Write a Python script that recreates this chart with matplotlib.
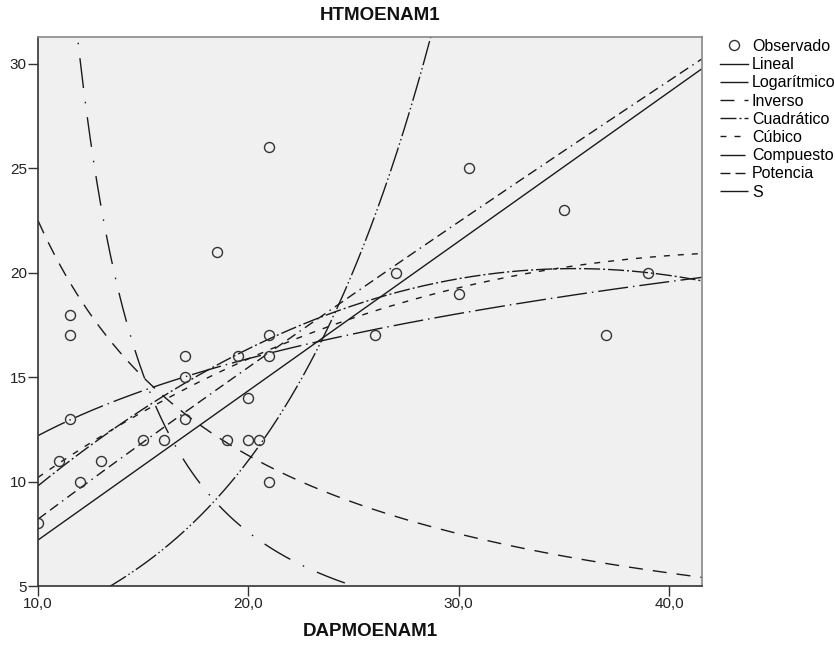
import numpy as np
import matplotlib
matplotlib.use("Agg")
import matplotlib.pyplot as plt
from matplotlib.lines import Line2D

plt.rcParams['font.family'] = ['Liberation Sans', 'DejaVu Sans']
plt.rcParams['lines.scale_dashes'] = False

# Observed data (DAPMOENAM1, HTMOENAM1)
dap = [10, 11, 11.5, 11.5, 11.5, 12, 13, 15, 16, 17, 17, 17, 18.5, 19, 19.5,
       20, 20, 20.5, 21, 21, 21, 21, 26, 27, 30, 30.5, 35, 37, 39]
ht = [8, 11, 13, 17, 18, 10, 11, 12, 12, 13, 15, 16, 21, 12, 16,
      14, 12, 12, 26, 17, 16, 10, 17, 20, 19, 25, 23, 17, 20]

# Model coefficients
lin_coef = [0.05, 0.715]              # b0 + b1*x
log_coef = [-0.05, 5.32]              # b0 + b1*ln(x)
inv_coef = [0.0, 225.0]               # b0 + b1/x
quad_coef = [0.036, 1.136, -0.016]    # b0 + b1 x + b2 x^2
cub_coef = [1.821, 0.9867, -0.015584, 6.98e-5]
comp_coef = [0.99, 1.128]             # b0 * b1^x
pow_coef = [0.995, 0.916]             # b0 * x^b1
s_coef = [-0.05, 41.5]                # exp(b0 + b1/x)

model_names = ['Lineal', 'Logarítmico', 'Inverso', 'Cuadrático', 'Cúbico',
               'Compuesto', 'Potencia', 'S']

xticks = [10, 20, 30, 40]
xtick_labels = ['10,0', '20,0', '30,0', '40,0']
yticks = [5, 10, 15, 20, 25, 30]

px = 0.72  # points per pixel at 100 dpi
styles = {
    'Lineal': '-',
    'Logarítmico': (0, (30 * px, 5 * px, 1.5 * px, 5 * px)),
    'Inverso': (0, (14 * px, 10 * px)),
    'Cuadrático': (0, (16 * px, 3 * px, 2 * px, 3 * px)),
    'Cúbico': (0, (6 * px, 8 * px)),
    'Compuesto': (0, (25 * px, 3 * px, 1.5 * px, 3 * px, 1.5 * px, 3 * px)),
    'Potencia': (0, (10 * px, 5 * px, 10 * px, 5 * px, 1.5 * px, 5 * px)),
    'S': (0, (30 * px, 14 * px, 1.5 * px, 14 * px)),
}

fig = plt.figure(figsize=(8.35, 6.48), dpi=100)
fig.patch.set_facecolor('white')
L, R, T, B = 38, 702, 37, 586
W, H = 835, 648
ax = fig.add_axes([L / W, 1 - B / H, (R - L) / W, (B - T) / H])
ax.set_facecolor('#f0f0f0')

xmin, xmax = 10, 41.57
ymin, ymax = 5, 31.29
x = np.linspace(xmin, xmax, 600)

curves = {
    'Lineal': lin_coef[0] + lin_coef[1] * x,
    'Logarítmico': log_coef[0] + log_coef[1] * np.log(x),
    'Inverso': inv_coef[0] + inv_coef[1] / x,
    'Cuadrático': quad_coef[0] + quad_coef[1] * x + quad_coef[2] * x ** 2,
    'Cúbico': cub_coef[0] + cub_coef[1] * x + cub_coef[2] * x ** 2 + cub_coef[3] * x ** 3,
    'Compuesto': comp_coef[0] * comp_coef[1] ** x,
    'Potencia': pow_coef[0] * x ** pow_coef[1],
    'S': np.exp(s_coef[0] + s_coef[1] / x),
}

lc = '#1a1a1a'
lw = 1.0
for name in model_names:
    ax.plot(x, curves[name], color=lc, lw=lw, linestyle=styles[name],
            dash_capstyle='butt', solid_capstyle='butt')

ax.plot(dap, ht, linestyle='none', marker='o', markersize=7.2,
        markerfacecolor='none', markeredgecolor='#333333', markeredgewidth=1.0)

ax.set_xlim(xmin, xmax)
ax.set_ylim(ymin, ymax)
ax.set_xticks(xticks)
ax.set_xticklabels(xtick_labels)
ax.set_yticks(yticks)
ax.tick_params(direction='out', length=7, width=1.0, color='#333333',
               labelsize=11, pad=1, labelcolor='#222222')
for s in ['left', 'bottom']:
    ax.spines[s].set_color('#333333')
    ax.spines[s].set_linewidth(1.2)
for s in ['top', 'right']:
    ax.spines[s].set_color('#888888')
    ax.spines[s].set_linewidth(1.2)

fig.text((L + R) / 2 / W, 1 - 631 / H, 'DAPMOENAM1', ha='center', va='center',
         fontsize=13.5, fontweight='bold', color='#111111')
fig.text(380 / W, 1 - 16 / H, 'HTMOENAM1', ha='center', va='center',
         fontsize=13.5, fontweight='bold', color='#111111')

handles = [Line2D([], [], linestyle='none', marker='o', markersize=7.2,
                  markerfacecolor='none', markeredgecolor='#333333',
                  markeredgewidth=1.0)]
for name in model_names:
    handles.append(Line2D([], [], color=lc, lw=lw, linestyle=styles[name],
                          dash_capstyle='butt'))
fig.legend(handles, ['Observado'] + model_names, loc='upper left',
           bbox_to_anchor=(720 / W, 1 - 39 / H), frameon=False, fontsize=11.5,
           handlelength=1.75, handletextpad=0.25, labelspacing=0.2,
           borderpad=0, borderaxespad=0)

fig.savefig('out.png', dpi=100, facecolor='white')
